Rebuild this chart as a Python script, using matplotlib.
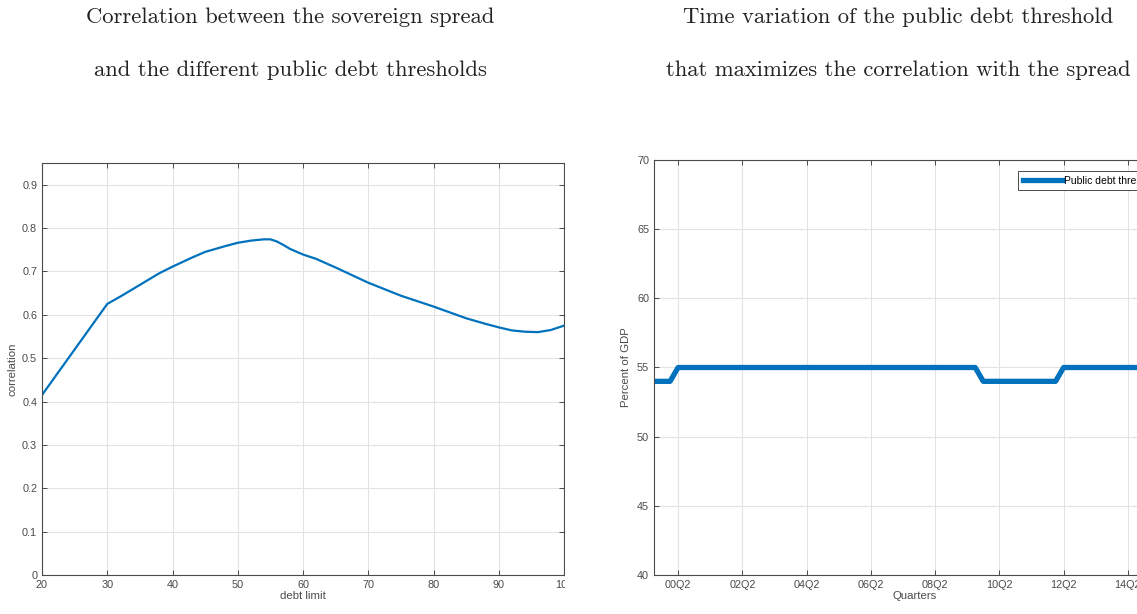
import matplotlib
matplotlib.use("Agg")
import matplotlib.pyplot as plt
from matplotlib.patches import Rectangle

# left panel: correlation vs debt limit
debt_limit = [20, 30, 32, 35, 38, 40, 43, 45, 48, 50, 52, 54, 55, 56, 57, 58, 60,
              62, 65, 68, 70, 75, 80, 85, 88, 90, 92, 94, 96, 98, 100]
correlation = [0.415, 0.625, 0.642, 0.669, 0.696, 0.711, 0.732, 0.745, 0.758, 0.766,
               0.771, 0.774, 0.774, 0.769, 0.761, 0.752, 0.739, 0.729, 0.709, 0.688,
               0.674, 0.644, 0.619, 0.592, 0.579, 0.571, 0.564, 0.561, 0.560, 0.565, 0.575]

# right panel: threshold by quarter, 1999Q3 .. 2015Q4
threshold = [54] * 3 + [55] * 38 + [54] * 10 + [55] * 15
quarter_ticks = ['00Q2', '02Q2', '04Q2', '06Q2', '08Q2', '10Q2', '12Q2', '14Q2', '16Q2']

W, H = 1137, 614
blue = '#0072BD'
dark = '#4a4a4a'
gridc = '#e3e3e3'

plt.rcParams['font.family'] = ['Liberation Sans', 'DejaVu Sans']
plt.rcParams['font.size'] = 7.5

fig = plt.figure(figsize=(W / 100, H / 100), dpi=100)


def style(ax):
    ax.grid(True, color=gridc, linewidth=0.8)
    ax.set_axisbelow(True)
    ax.tick_params(direction='in', top=True, right=True, length=3.5, width=0.7,
                   colors=dark, labelcolor=dark, labelsize=7.8)
    for s in ax.spines.values():
        s.set_color(dark)
        s.set_linewidth(0.8)


ax1 = fig.add_axes([42 / W, 39 / H, 522 / W, 412 / H])
ax1.plot(debt_limit, correlation, color=blue, linewidth=1.6)
ax1.set_xlim(20, 100)
ax1.set_ylim(0, 0.95)
ax1.set_xticks(range(20, 101, 10))
ax1.set_yticks([0, 0.1, 0.2, 0.3, 0.4, 0.5, 0.6, 0.7, 0.8, 0.9])
ax1.set_yticklabels(['0', '0.1', '0.2', '0.3', '0.4', '0.5', '0.6', '0.7', '0.8', '0.9'])
style(ax1)
ax1.set_xlabel('debt limit', fontsize=8.2, color=dark, labelpad=1)
ax1.set_ylabel('correlation', fontsize=8.2, color=dark, labelpad=3)

ax2 = fig.add_axes([654 / W, 39 / H, 522 / W, 415 / H])
ax2.plot(range(len(threshold)), threshold, color=blue, linewidth=3.8,
         label='Public debt threshold')
ax2.set_xlim(0, len(threshold) - 1)
ax2.set_ylim(40, 70)
ax2.set_xticks(range(3, len(threshold), 8))
ax2.set_xticklabels(quarter_ticks[:len(range(3, len(threshold), 8))])
ax2.set_yticks(range(40, 71, 5))
style(ax2)
ax2.set_xlabel('Quarters', fontsize=8.2, color=dark, labelpad=1)
ax2.set_ylabel('Percent of GDP', fontsize=8.2, color=dark, labelpad=4)
leg = ax2.legend(loc='upper left', bbox_to_anchor=(1018 / W, 1 - 171 / H),
                 bbox_transform=fig.transFigure, fontsize=7.5, handlelength=3.8,
                 handletextpad=0.15, borderpad=0.45, borderaxespad=0,
                 fancybox=False, framealpha=1)
leg.get_frame().set_edgecolor(dark)
leg.get_frame().set_linewidth(0.7)

# the left image is cut off at its right edge
fig.patches.append(Rectangle((565 / W, 0), 40 / W, 1, transform=fig.transFigure,
                             facecolor='white', edgecolor='none', zorder=10))

tfont = dict(fontfamily='cmr10', fontsize=16.3, color='#222222', ha='center', va='center')
fig.text(290 / W, 1 - 17 / H, 'Correlation between the sovereign spread', **tfont)
fig.text(290 / W, 1 - 70 / H, 'and the different public debt thresholds', **tfont)
fig.text(898 / W, 1 - 17 / H, 'Time variation of the public debt threshold', **tfont)
fig.text(898 / W, 1 - 70 / H, 'that maximizes the correlation with the spread', **tfont)

fig.savefig('out.png', dpi=100)
